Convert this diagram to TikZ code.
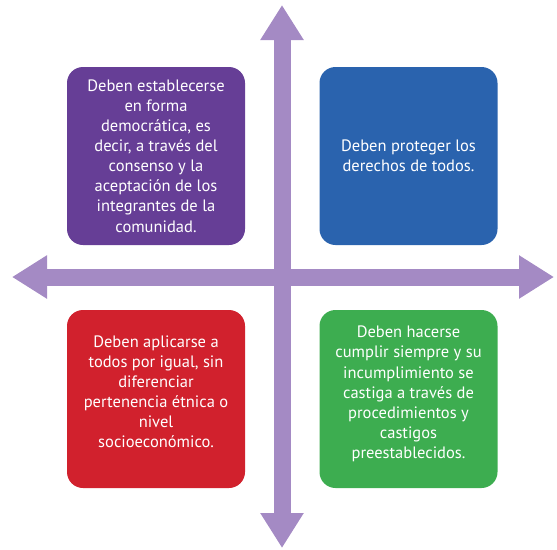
\documentclass[tikz,border=0pt]{standalone}
\usepackage{fontspec}
\setmainfont{PT Sans}
\usepackage{tikz}
\usetikzlibrary{arrows.meta}

\definecolor{cuadmorado}{RGB}{102,62,150}
\definecolor{cuadazul}{RGB}{42,99,174}
\definecolor{cuadrojo}{RGB}{209,33,45}
\definecolor{cuadverde}{RGB}{61,173,80}
\definecolor{flecha}{RGB}{164,138,196}

\tikzset{
  texto/.style={text=white, align=center, inner sep=0pt,
    font=\fontsize{16.5}{20.1}\selectfont},
  cuadro/.style={texto, rounded corners=16pt, minimum width=178pt, minimum height=178pt},
  eje/.style={draw=flecha, line width=17pt,
    {Triangle[width=41pt,length=35pt]}-{Triangle[width=41pt,length=35pt]}}
}

\begin{document}
\begin{tikzpicture}[x=1pt,y=-1pt]
	\useasboundingbox (0,0) rectangle (557,549);
	% ejes
	\coordinate (arriba) at (282,5);
	\coordinate (abajo) at (282,548);
	\coordinate (izq) at (12,277);
	\coordinate (der) at (554,277);
	\draw[eje] (abajo) -- (arriba);
	\draw[eje] (izq) -- (der);
	% cuadros
	\node[cuadro, fill=cuadmorado] (democracia) at (156,156)
		{Deben establecerse\\en forma\\democrática, es\\decir, a través del\\consenso y la\\aceptación de los\\integrantes de la\\comunidad.};
	\node[cuadro, fill=cuadazul] (derechos) at (408.5,156)
		{Deben proteger los\\derechos de todos.};
	\node[cuadro, fill=cuadrojo] (igualdad) at (156,399) {};
	\node[texto] (igualdadtxt) at (156,392)
		{Deben aplicarse a\\todos por igual, sin\\diferenciar\\pertenencia étnica o\\nivel\\socioeconómico.};
	\node[cuadro, fill=cuadverde] (castigo) at (408.5,399) {};
	\node[texto] (castigotxt) at (408.5,394)
		{Deben hacerse\\cumplir siempre y su\\incumplimiento se\\castiga a través de\\procedimientos y\\castigos\\preestablecidos.};
\end{tikzpicture}
\end{document}
